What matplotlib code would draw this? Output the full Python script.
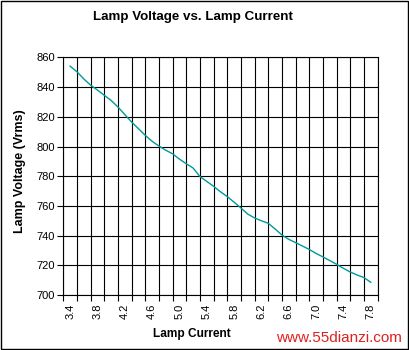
import matplotlib
matplotlib.use("Agg")
import matplotlib.pyplot as plt
import numpy as np
from matplotlib.patches import Rectangle

plt.rcParams['font.family'] = ['Liberation Sans', 'DejaVu Sans']

# lamp current vs lamp voltage
current = [3.4, 3.5, 3.6, 3.7, 3.8, 3.9, 4.0, 4.1, 4.2, 4.3, 4.4, 4.5, 4.6, 4.7,
           4.8, 4.9, 5.0, 5.1, 5.2, 5.3, 5.4, 5.5, 5.6, 5.7, 5.8, 5.9, 6.0, 6.1,
           6.2, 6.3, 6.4, 6.5, 6.6, 6.7, 6.8, 6.9, 7.0, 7.1, 7.2, 7.3, 7.4, 7.5,
           7.6, 7.7, 7.8]
voltage = [854.1, 850.3, 845.5, 841.3, 838.0, 834.5, 831.0, 826.6, 821.5, 816.5,
           812.0, 807.5, 803.5, 800.3, 797.5, 795.1, 791.5, 788.4, 785.5, 779.8,
           776.5, 773.2, 769.5, 766.3, 762.5, 758.6, 754.5, 751.9, 750.0, 748.3,
           744.5, 740.4, 737.5, 735.3, 733.0, 730.7, 728.0, 725.7, 723.2, 720.7,
           718.0, 715.5, 713.5, 711.8, 708.6]

x_labels = ['3.4', '3.8', '4.2', '4.6', '5.0', '5.4', '5.8', '6.2', '6.6', '7.0', '7.4', '7.8']
y_ticks = [700, 720, 740, 760, 780, 800, 820, 840, 860]

fig = plt.figure(figsize=(4.1, 3.5), dpi=100)
ax = fig.add_axes([0.1544, 0.157, 0.7666, 0.679])

ax.plot(current, voltage, color='#009a9a', lw=1.0)

ax.set_xlim(3.3, 7.9)
ax.set_ylim(700, 860)

# grid lines sit between the category labels, like the Excel original
ax.set_xticks(np.round(np.arange(3.3, 7.95, 0.2), 2))
ax.set_xticklabels([])
ax.set_xticks([float(s) for s in x_labels], minor=True)
ax.set_xticklabels(x_labels, minor=True, rotation=90, fontsize=8)
ax.tick_params(axis='x', which='minor', length=0, pad=6)
ax.tick_params(axis='x', which='major', length=4, width=0.8, direction='out')

ax.set_yticks(y_ticks)
ax.set_yticklabels([str(v) for v in y_ticks], fontsize=8)
ax.tick_params(axis='y', length=4, width=0.8, direction='out', pad=2)

ax.grid(True, which='major', color='black', lw=0.8)
for sp in ax.spines.values():
    sp.set_linewidth(0.8)
    sp.set_color('black')

fig.text(0.471, 0.951, 'Lamp Voltage vs. Lamp Current', ha='center', va='center',
         fontsize=9.6, fontweight='bold')
fig.text(0.049, 0.335, 'Lamp Voltage (Vrms)', rotation=90, ha='center', va='bottom',
         fontsize=9, fontweight='bold')
fig.text(0.373, 0.045, 'Lamp Current', ha='left', va='center',
         fontsize=8.6, fontweight='bold')
fig.text(0.674, 0.035, 'www.55dianzi.com', ha='left', va='center', fontsize=11,
         color='#e02020', bbox=dict(facecolor='white', edgecolor='none', pad=1))

fig.patches.append(Rectangle((0.003, 0.004), 0.992, 0.992, transform=fig.transFigure,
                             fill=False, edgecolor='black', lw=1.0))

fig.savefig('out.png', dpi=100)
